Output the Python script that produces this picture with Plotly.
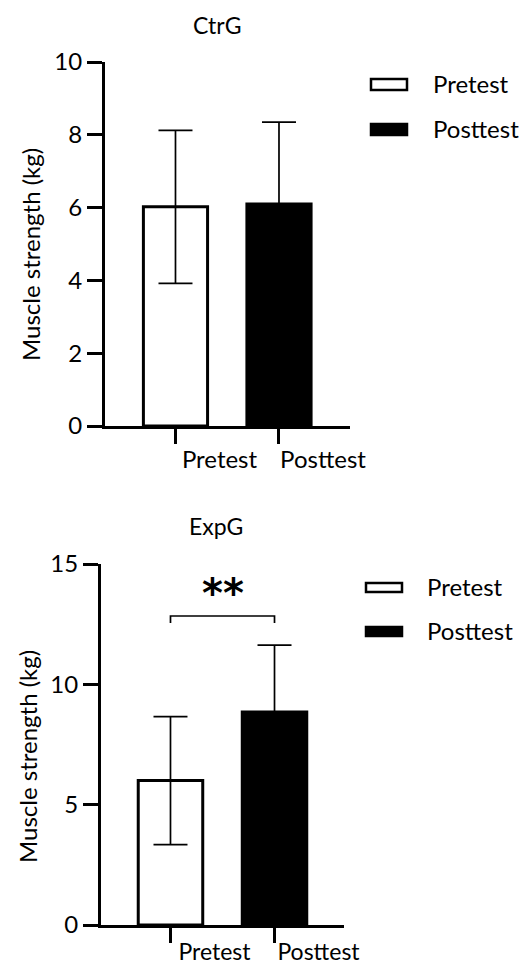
import plotly.graph_objects as go

# ---- data ----
categories = ["Pretest", "Posttest"]
ctrg_mean = [6.02, 6.10]
ctrg_sd = [2.10, 2.25]
expg_mean = [6.00, 8.85]
expg_sd = [2.66, 2.78]
ctrg_yticks = [0, 2, 4, 6, 8, 10]
expg_yticks = [0, 5, 10, 15]
bar_colors = ["white", "black"]
sig_label = "**"
sig_y = 12.84
sig_tick_y = 12.55
sig_text_y = 13.8
panel_titles = ["CtrG", "ExpG"]
y_title = "Muscle strength (kg)"

W, H = 521, 966
FONT = "Lato"

fig = go.Figure()

def px_x(p):
    return p / W

def px_y(p):
    return 1 - p / H

# top panel
fig.add_trace(go.Bar(
    x=categories, y=ctrg_mean, width=0.62,
    marker=dict(color=bar_colors, line=dict(color="black", width=3)),
    error_y=dict(type="data", array=ctrg_sd, visible=True, color="black", thickness=1.7, width=17),
    xaxis="x", yaxis="y", showlegend=False, hoverinfo="skip"))
# bottom panel
fig.add_trace(go.Bar(
    x=categories, y=expg_mean, width=0.62,
    marker=dict(color=bar_colors, line=dict(color="black", width=3)),
    error_y=dict(type="data", array=expg_sd, visible=True, color="black", thickness=1.7, width=17),
    xaxis="x2", yaxis="y2", showlegend=False, hoverinfo="skip"))

axis_common = dict(showline=True, linecolor="black", linewidth=3, ticks="outside",
                   ticklen=15, tickwidth=3, tickcolor="black", showgrid=False, zeroline=False,
                   automargin=False,
                   tickfont=dict(family=FONT, size=24, color="black"))
ytitle_font = dict(family=FONT, size=24, color="black")

fig.update_layout(
    width=W, height=H, margin=dict(l=0, r=0, t=0, b=0, autoexpand=False),
    paper_bgcolor="white", plot_bgcolor="white",
    font=dict(family=FONT, color="black"),
    barmode="overlay", showlegend=False,
    xaxis=dict(domain=[px_x(105), px_x(350)], anchor="y", range=[-0.681, 1.686],
               ticklabelshift=44, ticklabelstandoff=-5, **axis_common),
    yaxis=dict(domain=[px_y(426), px_y(62)], anchor="x", range=[0, 10], tickvals=ctrg_yticks,
               **axis_common),
    xaxis2=dict(domain=[px_x(101), px_x(344)], anchor="y2", range=[-0.668, 1.668],
                ticklabelshift=44, ticklabelstandoff=-11,
                **{**axis_common, "tickfont": dict(family=FONT, size=23, color="black")}),
    yaxis2=dict(domain=[px_y(925), px_y(564)], anchor="x2", range=[0, 15], tickvals=expg_yticks,
                **axis_common),
)

# y-axis titles
fig.add_annotation(text=y_title, x=px_x(30), y=px_y(255), xref="paper", yref="paper",
                   xanchor="center", yanchor="middle", textangle=-90,
                   showarrow=False, font=ytitle_font)
fig.add_annotation(text=y_title, x=px_x(27), y=px_y(757), xref="paper", yref="paper",
                   xanchor="center", yanchor="middle", textangle=-90,
                   showarrow=False, font=ytitle_font)

# panel titles
fig.add_annotation(text=panel_titles[0], x=px_x(217), y=px_y(25), xref="paper", yref="paper",
                   xanchor="center", yanchor="middle",
                   showarrow=False, font=dict(family=FONT, size=23, color="black"))
fig.add_annotation(text=panel_titles[1], x=px_x(216), y=px_y(526), xref="paper", yref="paper",
                   xanchor="center", yanchor="middle",
                   showarrow=False, font=dict(family=FONT, size=23, color="black"))

# significance bracket
fig.add_shape(type="path", xref="x2", yref="y2",
              path=f"M 0,{sig_tick_y} L 0,{sig_y} L 1,{sig_y} L 1,{sig_tick_y}",
              line=dict(color="black", width=1.7))
fig.add_annotation(text=f"<b>{sig_label}</b>", x=0.5, y=sig_text_y, xref="x2", yref="y2",
                   xanchor="center", yanchor="middle",
                   showarrow=False, font=dict(family="DejaVu Sans", size=40, color="black"))

# manual legends
def legend(x0, x1, ys, text_x):
    for (y0, y1), col, lab in zip(ys, bar_colors, categories):
        fig.add_shape(type="rect", xref="paper", yref="paper",
                      x0=px_x(x0 + 1), x1=px_x(x1 - 1), y0=px_y(y1 - 1), y1=px_y(y0 + 1),
                      fillcolor=col, line=dict(color="black", width=2.5))
        fig.add_annotation(text=lab, x=px_x(text_x), y=px_y((y0 + y1) / 2 - 1), xref="paper", yref="paper",
                           xanchor="left", yanchor="middle", showarrow=False,
                           font=dict(family=FONT, size=24, color="black"))

legend(370, 408, [(78, 91), (123, 136)], 431)
legend(365, 403, [(582, 593), (626, 637)], 425)

fig.write_html(
    "out.html",
    config={"displayModeBar": False},
    post_script="document.body.style.margin='0';document.body.style.padding='0';"
                "document.documentElement.style.overflow='hidden';",
)
